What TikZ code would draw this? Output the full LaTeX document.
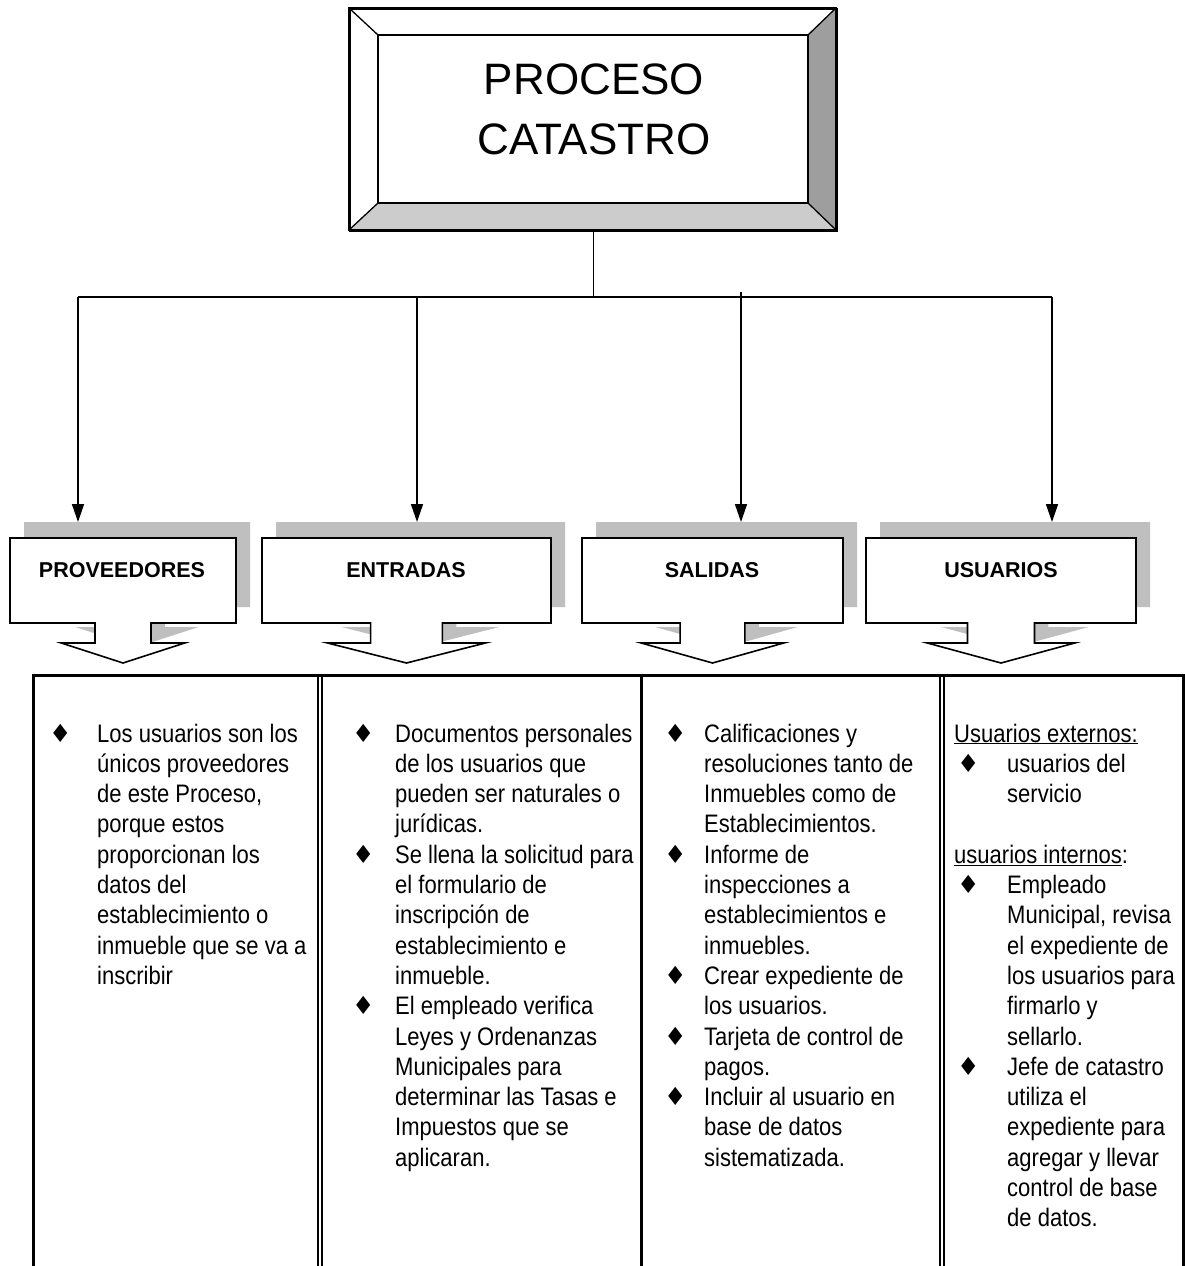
\documentclass[tikz,border=0pt]{standalone}
\usepackage{fontspec}
\setmainfont{Liberation Sans}
\newfontfamily\bodyfont{Liberation Sans}[FakeStretch=0.87]
\newfontfamily\dejavu{DejaVu Sans}
\usetikzlibrary{arrows.meta}
\newcommand\bul{{\dejavu\fontsize{25}{25}\selectfont ♦}}
\newcommand\drawcallout[3]{%
  \pgfmathsetmacro\clC{(#1+#2)/2}%
  \pgfmathsetmacro\clS{0.124*(#2-#1)}%
  \pgfmathsetmacro\clH{0.273*(#2-#1)}%
  \begin{scope}[shift={(14,-16)}]
    \fill[shadowgray] (#1,#3) -- (#2,#3) -- (#2,623) -- (\clC+\clS,623) -- (\clC+\clS,643) -- (\clC+\clH,643) -- (\clC,663) -- (\clC-\clH,643) -- (\clC-\clS,643) -- (\clC-\clS,623) -- (#1,623) -- cycle;
  \end{scope}
  \draw[calloutbox] (#1,#3) -- (#2,#3) -- (#2,623) -- (\clC+\clS,623) -- (\clC+\clS,643) -- (\clC+\clH,643) -- (\clC,663) -- (\clC-\clH,643) -- (\clC-\clS,643) -- (\clC-\clS,623) -- (#1,623) -- cycle;
}
\colorlet{shadowgray}{black!25}
\begin{document}
\begin{tikzpicture}[x=1pt,y=-1pt,
  conn/.style={line width=1.6pt},
  arr/.style={conn,-{Triangle[length=18pt,width=12pt]}},
  calloutbox/.style={draw=black,line width=1.6pt,fill=white,line join=miter},
  hdr/.style={font=\fontsize{21.5}{24}\selectfont\bfseries, anchor=base, inner sep=0},
  titletext/.style={font=\fontsize{44}{60}\selectfont, anchor=base, inner sep=0},
  body/.style={anchor=base west, inner sep=0, font=\bodyfont\fontsize{25.3}{30.3}\selectfont},
  heavyrule/.style={line width=3pt},
  lightrule/.style={line width=1.2pt}]

\useasboundingbox (0,0) rectangle (1185,1266);
\fill[white] (0,0) rectangle (1185,1266);

% ---------- top bevelled box ----------
\node[draw, line width=1.6pt, minimum width=487, minimum height=222, anchor=north west, inner sep=0] (proc) at (349,8) {};
\fill[black!20] (349,230) -- (378,203) -- (808,203) -- (836,230) -- cycle;
\fill[black!38] (836,8) -- (808,35) -- (808,203) -- (836,230) -- cycle;
\draw[line width=1.6pt] (349,8) rectangle (836,230);
\draw[line width=1.3pt] (378,35) rectangle (808,203);
\draw[line width=1.3pt] (349,8) -- (378,35) (836,8) -- (808,35) (349,230) -- (378,203) (836,230) -- (808,203);
\node[titletext] (t1) at (594,94) {PROCESO};
\node[titletext] (t2) at (594,154) {CATASTRO};

% ---------- connectors ----------
\coordinate (hl) at (78,297);
\coordinate (hr) at (1052,297);
\coordinate (j) at (proc.south |- hl);
\coordinate (a2) at (417,297);
\coordinate (a3) at (741,292);
\coordinate (e1) at (78,522);
\coordinate (e2) at (417,522);
\coordinate (e3) at (741,522);
\coordinate (e4) at (1052,522);
\draw[conn] (proc.south) -- (j);
\draw[conn] (hl) -- (hr);

% ---------- callouts ----------
\drawcallout{10}{236}{538}
\drawcallout{262}{551}{538}
\drawcallout{582}{843}{538}
\drawcallout{866}{1136}{538}

\draw[arr] (hl) -- (e1);
\draw[arr] (a2) -- (e2);
\draw[arr] (a3) -- (e3);
\draw[arr] (hr) -- (e4);

\node[hdr] (h1) at (122,577) {PROVEEDORES};
\node[hdr] (h2) at (406,577) {ENTRADAS};
\node[hdr] (h3) at (712,577) {SALIDAS};
\node[hdr] (h4) at (1001,577) {USUARIOS};

% ---------- table ----------
\draw[heavyrule] (33,1266) -- (33,675) -- (1183,675) -- (1183,1266);
\draw[lightrule] (318,676) -- (318,1266) (322,676) -- (322,1266);
\draw[heavyrule] (641,676) -- (641,1266);
\draw[lightrule] (940,676) -- (940,1266) (944,676) -- (944,1266);

\node[body] (c1) at (49,742) {\begin{tabular}[t]{@{}p{48pt}@{}l@{}}
\bul & Los usuarios son los\\
 & únicos proveedores\\
 & de este Proceso,\\
 & porque estos\\
 & proporcionan los\\
 & datos del\\
 & establecimiento o\\
 & inmueble que se va a\\
 & inscribir
\end{tabular}};

\node[body] (c2) at (352,742) {\begin{tabular}[t]{@{}p{43pt}@{}l@{}}
\bul & Documentos personales\\
 & de los usuarios que\\
 & pueden ser naturales o\\
 & jurídicas.\\
\bul & Se llena la solicitud para\\
 & el formulario de\\
 & inscripción de\\
 & establecimiento e\\
 & inmueble.\\
\bul & El empleado verifica\\
 & Leyes y Ordenanzas\\
 & Municipales para\\
 & determinar las Tasas e\\
 & Impuestos que se\\
 & aplicaran.
\end{tabular}};

\node[body] (c3) at (664,742) {\begin{tabular}[t]{@{}p{40pt}@{}l@{}}
\bul & Calificaciones y\\
 & resoluciones tanto de\\
 & Inmuebles como de\\
 & Establecimientos.\\
\bul & Informe de\\
 & inspecciones a\\
 & establecimientos e\\
 & inmuebles.\\
\bul & Crear expediente de\\
 & los usuarios.\\
\bul & Tarjeta de control de\\
 & pagos.\\
\bul & Incluir al usuario en\\
 & base de datos\\
 & sistematizada.
\end{tabular}};

\node[body] (c4) at (954,742) {\begin{tabular}[t]{@{}p{53pt}@{}l@{}}
\multicolumn{2}{@{}l@{}}{\underline{Usuarios externos:}}\\
\hspace*{3pt}\bul & usuarios del\\
 & servicio\\
 & \\
\multicolumn{2}{@{}l@{}}{\underline{usuarios internos}:}\\
\hspace*{3pt}\bul & Empleado\\
 & Municipal, revisa\\
 & el expediente de\\
 & los usuarios para\\
 & firmarlo y\\
 & sellarlo.\\
\hspace*{3pt}\bul & Jefe de catastro\\
 & utiliza el\\
 & expediente para\\
 & agregar y llevar\\
 & control de base\\
 & de datos.
\end{tabular}};
\end{tikzpicture}
\end{document}
